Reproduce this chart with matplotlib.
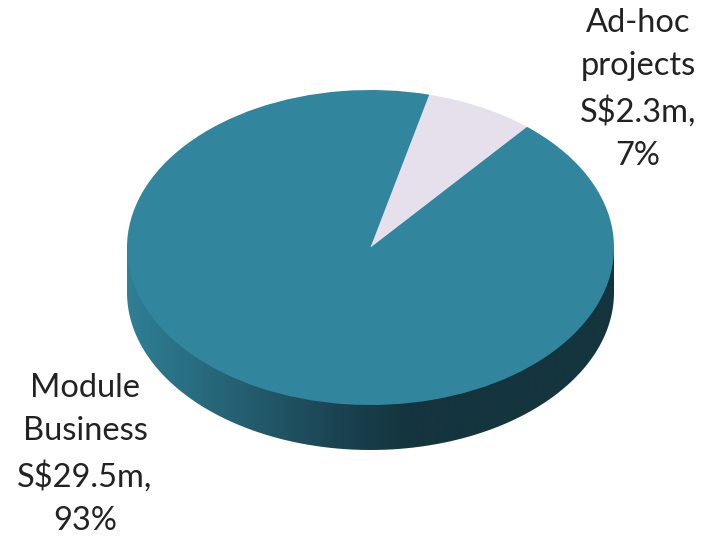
#!/usr/bin/env python3
"""Revenue split as a tilted pie with a shaded side wall"""

import numpy as np
import matplotlib
matplotlib.use('Agg')
import matplotlib.pyplot as plt
from matplotlib.path import Path
from matplotlib.patches import PathPatch
from matplotlib.colors import LinearSegmentedColormap

segments = ['Ad-hoc\nprojects', 'Module\nBusiness']
revenue_m = [2.3, 29.5]
shares = [7, 93]
face_colors = ['#E6E0EC', '#31859C']

W, H = 706, 536
PIE_LEFT, PIE_RIGHT = 127, 614
PIE_TOP, PIE_BOTTOM = 90, 405
WALL = 45
START_ANGLE = 50.0

plt.rcParams['font.family'] = ['Lato', 'DejaVu Sans']

fig = plt.figure(figsize=(W / 100, H / 100), dpi=100, facecolor='white')

# axes hold the top face in -1..1 and leave room below for the wall
ry_px = (PIE_BOTTOM - PIE_TOP) / 2
depth = WALL / ry_px
ax = fig.add_axes([PIE_LEFT / W, 1 - (PIE_BOTTOM + WALL) / H,
                   (PIE_RIGHT - PIE_LEFT) / W, (PIE_BOTTOM + WALL - PIE_TOP) / H])

# side wall: horizontal gradient clipped to the lower rim
wall_cmap = LinearSegmentedColormap.from_list(
    'wall', [(0, '#2F7F95'), (0.24, '#245E70'), (0.44, '#1A4250'), (0.58, '#14343E'), (1, '#14343E')])
gradient = np.linspace(0, 1, 512).reshape(1, -1)
img = ax.imshow(gradient, cmap=wall_cmap, extent=(-1, 1, -1 - depth, 1), aspect='auto')

t = np.linspace(np.pi, 2 * np.pi, 200)
rim = np.column_stack([np.cos(t), np.sin(t) - depth])
verts = np.vstack([[[-1, 0]], rim, [[1, 0]], [[-1, 0]]])
wall = PathPatch(Path(verts), transform=ax.transData, facecolor='none', edgecolor='none')
ax.add_patch(wall)
img.set_clip_path(wall)

# top face
ax.pie(revenue_m, colors=face_colors, startangle=START_ANGLE, radius=1,
       wedgeprops={'linewidth': 0, 'antialiased': True})
ax.set_aspect('auto')
ax.set_xlim(-1, 1)
ax.set_ylim(-1 - depth, 1)
ax.axis('off')

# labels, anchored on the baseline of their last line
label_pos = [(638, 165), (85, 530)]
for name, value, share, (x, y) in zip(segments, revenue_m, shares, label_pos):
    fig.text(x / W, 1 - y / H, f'{name}\nS${value}m,\n{share}%',
             ha='center', va='baseline', ma='center', fontsize=23.5,
             color='#222222', linespacing=1.56)

plt.savefig('out.png', dpi=100)
